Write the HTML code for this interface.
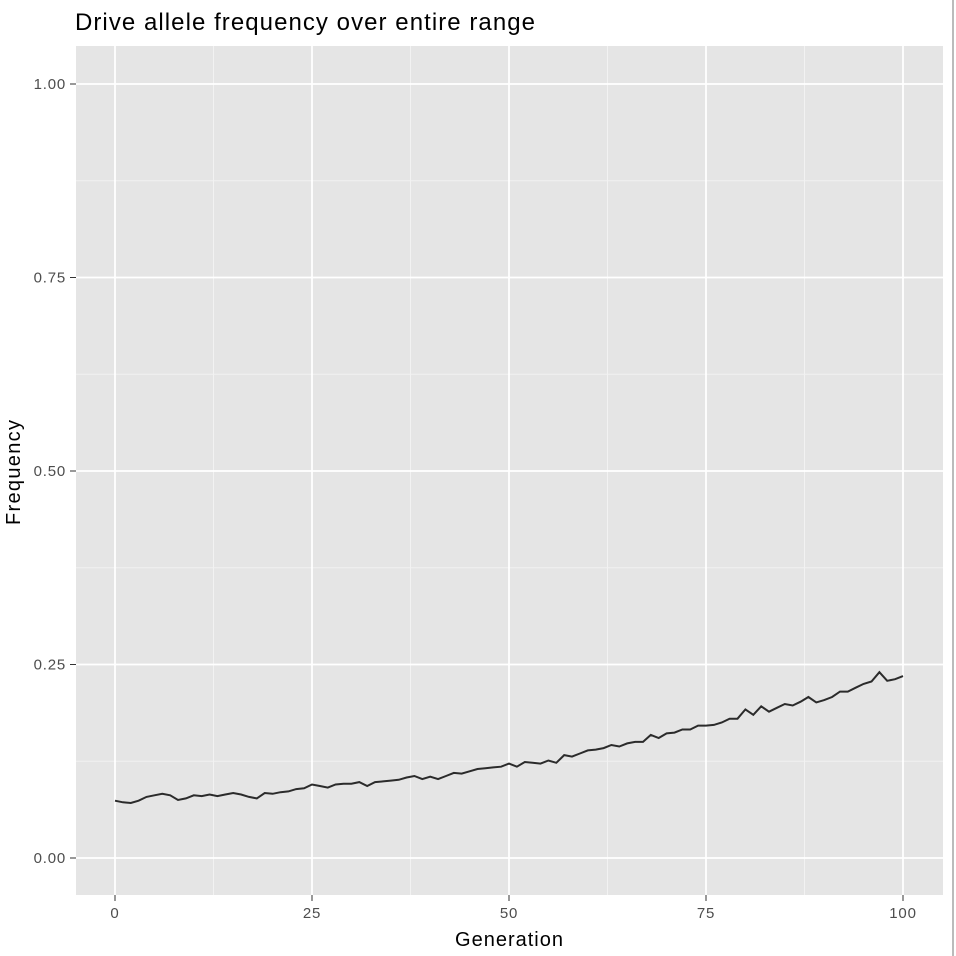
<!DOCTYPE html>
<html><head><meta charset="utf-8"><style>
html,body{margin:0;padding:0;background:#fff;}
svg{display:block;font-family:"Liberation Sans",Arial,sans-serif;}
</style></head><body>
<svg id="chart" width="956" height="956">
<rect x="0" y="0" width="956" height="956" fill="#fff"/>
<text x="75" y="30" font-size="24" textLength="460" lengthAdjust="spacing" fill="#000">Drive allele frequency over entire range</text>
<rect x="76" y="46" width="867" height="849" fill="#e5e5e5"/>
<g id="grid"></g>
<g id="axes"></g>
<path id="line" fill="none" stroke="#2b2b2b" stroke-width="2"/>
<text x="455" y="946" font-size="20" textLength="108" lengthAdjust="spacing" fill="#000">Generation</text>
<text transform="translate(20,525) rotate(-90)" font-size="20" textLength="105" lengthAdjust="spacing" fill="#000">Frequency</text>
<rect x="952" y="0" width="2" height="956" fill="#bbb"/>
</svg>
<script>
const generations = Array.from({length:101},(_,i)=>i);
const frequency = [0.074,0.072,0.071,0.074,0.079,0.081,0.083,0.081,0.075,0.077,0.081,0.080,0.082,0.080,0.082,0.084,0.082,0.079,0.077,0.084,0.083,0.085,0.086,0.089,0.090,0.095,0.093,0.091,0.095,0.096,0.096,0.098,0.093,0.098,0.099,0.100,0.101,0.104,0.106,0.102,0.105,0.102,0.106,0.110,0.109,0.112,0.115,0.116,0.117,0.118,0.122,0.118,0.124,0.123,0.122,0.126,0.123,0.133,0.131,0.135,0.139,0.140,0.142,0.146,0.144,0.148,0.150,0.150,0.159,0.155,0.161,0.162,0.166,0.166,0.171,0.171,0.172,0.175,0.180,0.180,0.192,0.185,0.196,0.189,0.194,0.199,0.197,0.202,0.208,0.201,0.204,0.208,0.215,0.215,0.220,0.225,0.228,0.240,0.229,0.231,0.235];
const xTicks = [0,25,50,75,100];
const xMinor = [12.5,37.5,62.5,87.5];
const yTicks = [0,0.25,0.5,0.75,1];
const yTickLabels = ["0.00","0.25","0.50","0.75","1.00"];
const yMinor = [0.125,0.375,0.625,0.875];

const X = v => 115 + v*7.88;
const Y = v => 858 - v*774;
const NS = "http://www.w3.org/2000/svg";
const grid = document.getElementById('grid');
const axes = document.getElementById('axes');
function mk(tag, attrs, parent){const e=document.createElementNS(NS,tag);for(const k in attrs)e.setAttribute(k,attrs[k]);parent.appendChild(e);return e;}

yMinor.forEach(v=>{
  const l=mk('line',{x1:76,x2:943,y1:Y(v),y2:Y(v),stroke:'#f2f2f2','stroke-width':1},grid);
  
  
});
xMinor.forEach(v=>{
  const l=mk('line',{x1:X(v),x2:X(v),y1:46,y2:895,stroke:'#f2f2f2','stroke-width':1},grid);
  
  
});
yTicks.forEach((v,i)=>{
  const l=mk('line',{x1:76,x2:943,y1:Y(v),y2:Y(v),stroke:'#fff','stroke-width':1.8},grid);
  
  
  const t=mk('line',{x1:70,x2:76,y1:Y(v),y2:Y(v),stroke:'#333','stroke-width':1},axes);
  
  
  const tx=mk('text',{x:66,y:Y(v)+5,'font-size':15,'letter-spacing':'0.8','text-anchor':'end',fill:'#4d4d4d'},axes);
  tx.textContent=yTickLabels[i];
  
  
});
xTicks.forEach(v=>{
  const l=mk('line',{x1:X(v),x2:X(v),y1:46,y2:895,stroke:'#fff','stroke-width':1.8},grid);
  
  
  const t=mk('line',{x1:X(v),x2:X(v),y1:895,y2:901,stroke:'#333','stroke-width':1},axes);
  
  
  const tx=mk('text',{x:X(v),y:918,'font-size':15,'letter-spacing':'0.8','text-anchor':'middle',fill:'#4d4d4d'},axes);
  tx.textContent=String(v);
  
  
});
document.getElementById('line').setAttribute('d',
  generations.map((g,i)=>(i?'L':'M')+X(g).toFixed(1)+','+Y(frequency[i]).toFixed(1)).join(''));
</script>
</body></html>
